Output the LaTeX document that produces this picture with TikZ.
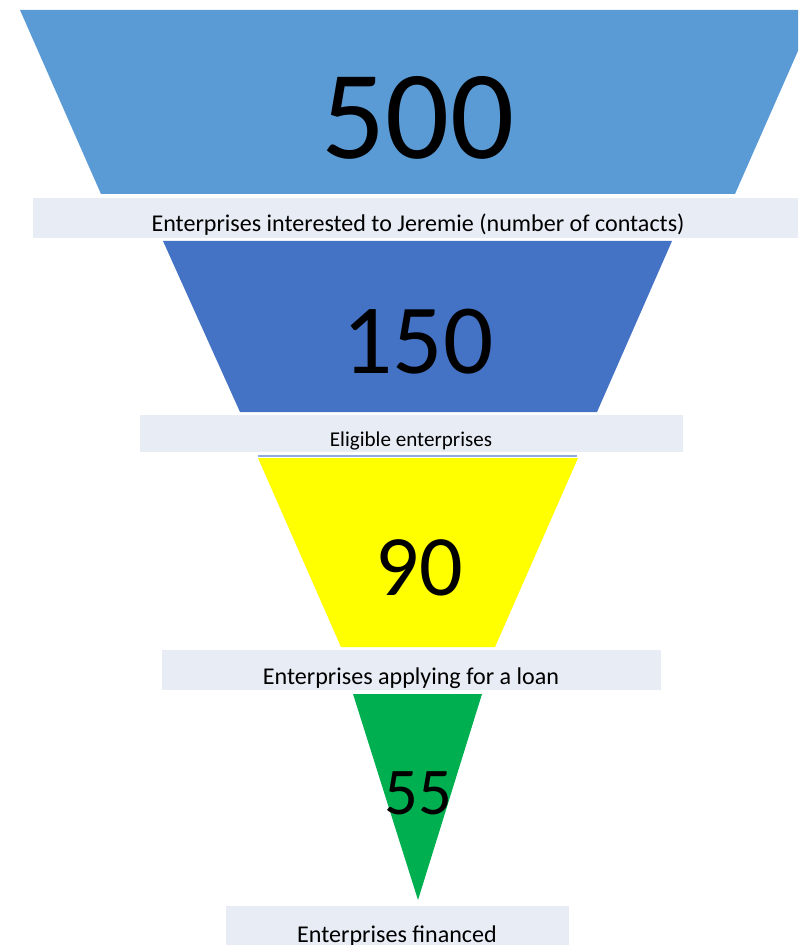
\documentclass[tikz,border=0pt]{standalone}
\usepackage{fontspec}
\setmainfont{Carlito}
\usepackage{tikz}
\definecolor{stageA}{HTML}{5B9BD5}
\definecolor{stageB}{HTML}{4472C4}
\definecolor{stageC}{HTML}{FFFF00}
\definecolor{stageD}{HTML}{00B050}
\definecolor{bandgray}{HTML}{E8ECF5}
\definecolor{rulegray}{HTML}{8FAADC}
\tikzset{
    band/.style={fill=bandgray},
    count/.style={text=black, inner sep=0pt},
    caption/.style={text=black, inner sep=0pt, font=\fontsize{13.7}{16}\selectfont}}

\begin{document}
\begin{tikzpicture}[x=0.02cm, y=-0.02cm]

            \useasboundingbox (0,0) rectangle (798,945);
            \clip (0,0) rectangle (798,945);

            % funnel stages
            \fill[stageA] (20,10) -- (816,10) -- (735,194) -- (101,194) -- cycle;
            \fill[stageB] (163,241) -- (672,241) -- (597,412) -- (240,412) -- cycle;
            \fill[stageC] (258,458) -- (578,458) -- (495,647) -- (341,647) -- cycle;
            \fill[stageD] (353,694) -- (482,694) -- (418,900) -- cycle;
            \draw[rulegray, line width=0.6pt] (258,456) -- (577,456);

            % caption bands
            \fill[band] (33,198) rectangle (803,238);
            \fill[band] (140,415) rectangle (683,452);
            \fill[band] (162,650) rectangle (661,690);
            \fill[band] (226,906) rectangle (569,960);

            \node[count, font=\fontsize{72}{80}\selectfont] (n500) at (418,118) {500};
            \node[count, font=\fontsize{56.5}{62}\selectfont] (n150) at (418,342) {150};
            \node[count, font=\fontsize{49}{54}\selectfont] (n90) at (419,568) {90};
            \node[count, font=\fontsize{38}{42}\selectfont] (n55) at (418,793) {55};

            \node[caption] (c1) at (418,225) {Enterprises interested to Jeremie (number of contacts)};
            \node[caption, font=\fontsize{12}{14}\selectfont] (c2) at (411,441) {Eligible enterprises};
            \node[caption] (c3) at (411,678) {Enterprises applying for a loan};
            \node[caption] (c4) at (397,936) {Enterprises financed};

        \end{tikzpicture}
\end{document}
